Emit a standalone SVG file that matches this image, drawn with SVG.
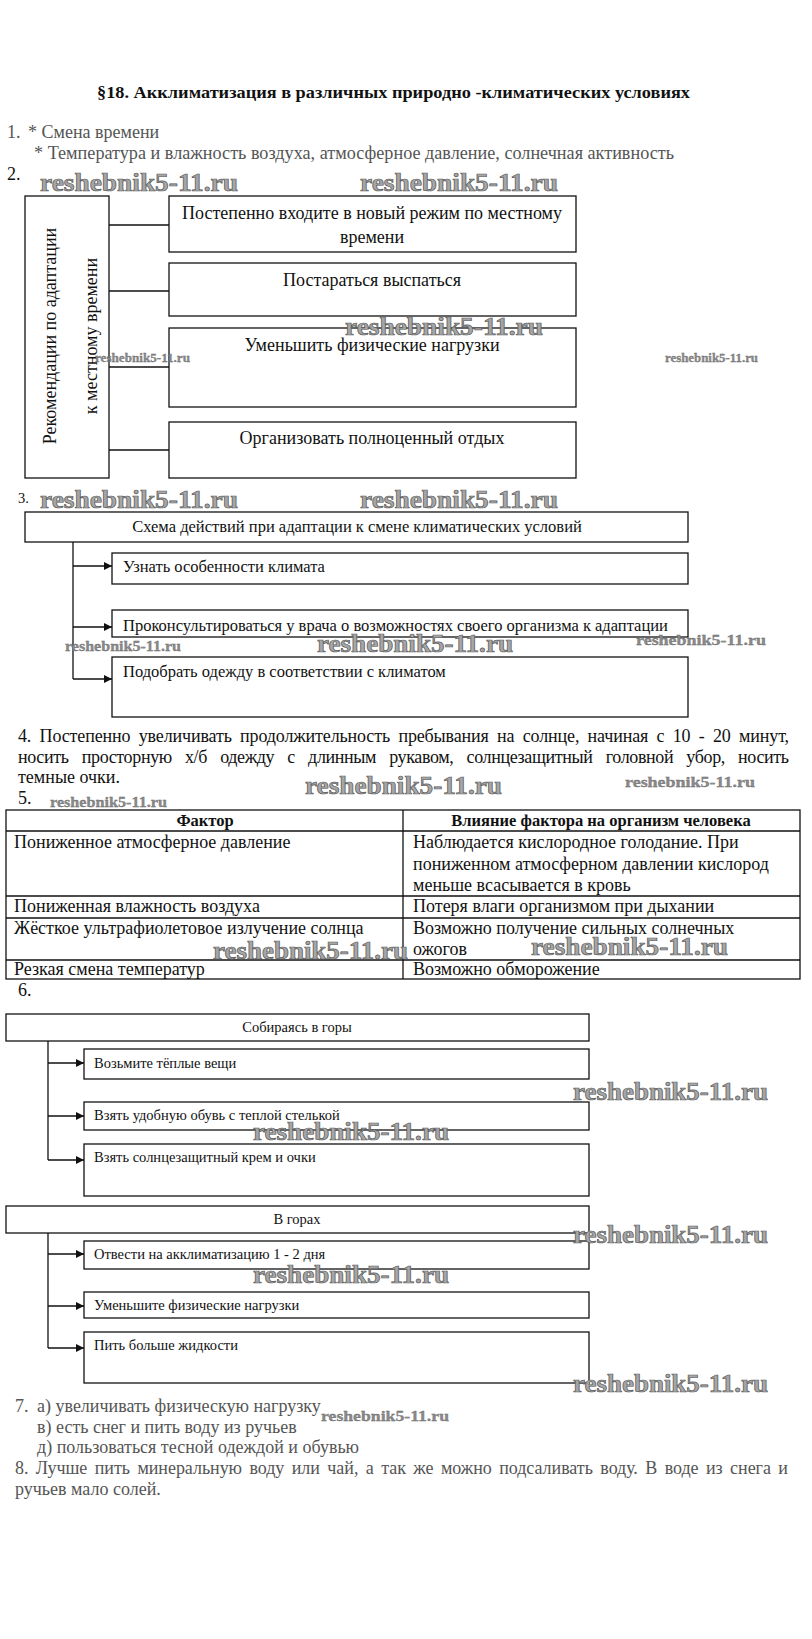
<svg xmlns="http://www.w3.org/2000/svg" width="812" height="1639" viewBox="0 0 812 1639">
<defs>
<style>
text{font-family:"Liberation Serif","Times New Roman",serif;fill:#111}
.t{font-size:18px}
.s{font-size:16.5px}
.x{font-size:14.5px}
.g{fill:#555}
.b{font-weight:bold}
.box{fill:#fff;stroke:#111;stroke-width:1.3}
.ln{stroke:#111;stroke-width:1.3;fill:none}
.wm{font-weight:bold;fill:#a6a6a6;stroke:#5a5a5a;stroke-width:0.7}
.wms{font-weight:bold;fill:#8a8a8a;stroke:#6a6a6a;stroke-width:0.3}
</style>
<marker id="ah" viewBox="0 0 10 10" refX="10" refY="5" markerWidth="8" markerHeight="8" markerUnits="userSpaceOnUse" orient="auto">
<path d="M0,0 L10,5 L0,10 z" fill="#111"/>
</marker>
</defs>
<rect width="812" height="1639" fill="#fff"/>

<text x="97" y="98" class="b" font-size="17" textLength="593" lengthAdjust="spacingAndGlyphs">§18.  Акклиматизация в различных природно -климатических условиях</text>

<g id="sec1">
<text x="7" y="138" class="t g">1.</text>
<text x="28" y="138" class="t g">* Смена времени</text>
<text x="34" y="159" class="t g" textLength="640" lengthAdjust="spacingAndGlyphs">* Температура и влажность воздуха, атмосферное давление, солнечная активность</text>
<text x="7" y="180" class="t">2.</text>
</g>

<g id="connectors">
<line class="ln" x1="109" y1="225" x2="169" y2="225"/>
<line class="ln" x1="109" y1="291" x2="169" y2="291"/>
<line class="ln" x1="109" y1="367" x2="169" y2="367"/>
<line class="ln" x1="109" y1="450" x2="169" y2="450"/>
<line class="ln" x1="73" y1="542" x2="73" y2="679"/>
<line class="ln" x1="73" y1="566" x2="112" y2="566" marker-end="url(#ah)"/>
<line class="ln" x1="73" y1="627" x2="112" y2="627" marker-end="url(#ah)"/>
<line class="ln" x1="73" y1="679" x2="112" y2="679" marker-end="url(#ah)"/>
<line class="ln" x1="48" y1="1041" x2="48" y2="1160"/>
<line class="ln" x1="48" y1="1063" x2="84" y2="1063" marker-end="url(#ah)"/>
<line class="ln" x1="48" y1="1116" x2="84" y2="1116" marker-end="url(#ah)"/>
<line class="ln" x1="48" y1="1160" x2="84" y2="1160" marker-end="url(#ah)"/>
<line class="ln" x1="48" y1="1233" x2="48" y2="1348"/>
<line class="ln" x1="48" y1="1254" x2="84" y2="1254" marker-end="url(#ah)"/>
<line class="ln" x1="48" y1="1306" x2="84" y2="1306" marker-end="url(#ah)"/>
<line class="ln" x1="48" y1="1348" x2="84" y2="1348" marker-end="url(#ah)"/>
</g>

<g id="rec-root">
<rect class="box" x="25" y="196" width="84" height="282"/>
<text transform="translate(56,336) rotate(-90)" text-anchor="middle" font-size="18">Рекомендации по адаптации</text>
<text transform="translate(97,336) rotate(-90)" text-anchor="middle" font-size="18">к местному времени</text>
</g>
<g id="rec1">
<rect class="box" x="169" y="196" width="407" height="56"/>
<text x="372" y="219" text-anchor="middle" font-size="18">Постепенно входите в новый режим по местному</text>
<text x="372" y="243" text-anchor="middle" font-size="18">времени</text>
</g>
<g id="rec2">
<rect class="box" x="169" y="263" width="407" height="53"/>
<text x="372" y="286" text-anchor="middle" font-size="18">Постараться выспаться</text>
</g>
<g id="rec3">
<rect class="box" x="169" y="328" width="407" height="79"/>
<text x="372" y="351" text-anchor="middle" font-size="18">Уменьшить физические нагрузки</text>
</g>
<g id="rec4">
<rect class="box" x="169" y="422" width="407" height="56"/>
<text x="372" y="444" text-anchor="middle" font-size="18">Организовать полноценный отдых</text>
</g>

<text x="18" y="503" class="x">3.</text>
<g id="clim-root">
<rect class="box" x="25" y="512" width="663" height="30"/>
<text x="357" y="532" text-anchor="middle" class="s">Схема действий при адаптации к смене климатических условий</text>
</g>
<g id="clim1">
<rect class="box" x="112" y="553" width="576" height="31"/>
<text x="123" y="572" class="s">Узнать особенности климата</text>
</g>
<g id="clim2">
<rect class="box" x="112" y="610" width="576" height="27"/>
<text x="123" y="631" class="s">Проконсультироваться у врача о возможностях своего организма к адаптации</text>
</g>
<g id="clim3">
<rect class="box" x="112" y="657" width="576" height="60"/>
<text x="123" y="677" class="s">Подобрать одежду в соответствии с климатом</text>
</g>

<g id="sec4">
<text x="18" y="742" class="t" word-spacing="4" textLength="771" lengthAdjust="spacing">4. Постепенно увеличивать продолжительность пребывания на солнце, начиная с 10 - 20 минут,</text>
<text x="18" y="763" class="t" word-spacing="9" textLength="771" lengthAdjust="spacing">носить просторную х/б одежду с длинным рукавом, солнцезащитный головной убор, носить</text>
<text x="18" y="783" class="t">темные очки.</text>
<text x="18" y="804" class="t">5.</text>
</g>

<g id="table">
<rect x="6" y="810" width="794" height="169" fill="none" stroke="#111" stroke-width="1.3"/>
<line class="ln" x1="403" y1="810" x2="403" y2="979"/>
<line class="ln" x1="6" y1="831" x2="800" y2="831"/>
<line class="ln" x1="6" y1="896" x2="800" y2="896"/>
<line class="ln" x1="6" y1="918" x2="800" y2="918"/>
<line class="ln" x1="6" y1="960" x2="800" y2="960"/>
<text x="205" y="826" text-anchor="middle" class="b" font-size="16.5">Фактор</text>
<text x="601" y="826" text-anchor="middle" class="b" font-size="16.5">Влияние фактора на организм человека</text>
<text x="14" y="848" class="t">Пониженное атмосферное давление</text>
<text x="413" y="848" class="t">Наблюдается кислородное голодание. При</text>
<text x="413" y="870" class="t">пониженном атмосферном давлении кислород</text>
<text x="413" y="891" class="t">меньше всасывается в кровь</text>
<text x="14" y="912" class="t">Пониженная влажность воздуха</text>
<text x="413" y="912" class="t">Потеря влаги организмом при дыхании</text>
<text x="14" y="934" class="t">Жёсткое ультрафиолетовое излучение солнца</text>
<text x="413" y="934" class="t">Возможно получение сильных солнечных</text>
<text x="413" y="955" class="t">ожогов</text>
<text x="14" y="975" class="t">Резкая смена температур</text>
<text x="413" y="975" class="t">Возможно обморожение</text>
</g>

<text x="18" y="996" class="t">6.</text>
<g id="mount-root">
<rect class="box" x="6" y="1014" width="583" height="27"/>
<text x="297" y="1032" text-anchor="middle" class="x">Собираясь в горы</text>
</g>
<g id="mount1">
<rect class="box" x="84" y="1049" width="505" height="30"/>
<text x="94" y="1068" class="x">Возьмите тёплые вещи</text>
</g>
<g id="mount2">
<rect class="box" x="84" y="1102" width="505" height="28"/>
<text x="94" y="1120" class="x">Взять удобную обувь с теплой стелькой</text>
</g>
<g id="mount3">
<rect class="box" x="84" y="1144" width="505" height="52"/>
<text x="94" y="1162" class="x">Взять солнцезащитный  крем и очки</text>
</g>

<g id="inmount-root">
<rect class="box" x="6" y="1206" width="583" height="27"/>
<text x="297" y="1224" text-anchor="middle" class="x">В горах</text>
</g>
<g id="inmount1">
<rect class="box" x="84" y="1241" width="505" height="28"/>
<text x="94" y="1259" class="x">Отвести на акклиматизацию 1 - 2 дня</text>
</g>
<g id="inmount2">
<rect class="box" x="84" y="1292" width="505" height="26"/>
<text x="94" y="1310" class="x">Уменьшите физические нагрузки</text>
</g>
<g id="inmount3">
<rect class="box" x="84" y="1332" width="505" height="51"/>
<text x="94" y="1350" class="x">Пить больше жидкости</text>
</g>

<g id="sec7">
<text x="15" y="1412" class="t g">7.</text>
<text x="37" y="1412" class="t g">а) увеличивать физическую нагрузку</text>
<text x="37" y="1433" class="t g">в) есть снег и пить воду из ручьев</text>
<text x="37" y="1453" class="t g">д) пользоваться тесной одеждой и обувью</text>
<text x="15" y="1474" class="t g" word-spacing="3" textLength="773" lengthAdjust="spacing">8. Лучше пить минеральную воду или чай, а так же можно подсаливать воду. В воде из снега и</text>
<text x="15" y="1495" class="t g">ручьев мало солей.</text>
</g>

<g id="watermarks">
<text x="40" y="191" class="wm" font-size="25" textLength="198" lengthAdjust="spacingAndGlyphs">reshebnik5-11.ru</text>
<text x="360" y="191" class="wm" font-size="25" textLength="198" lengthAdjust="spacingAndGlyphs">reshebnik5-11.ru</text>
<text x="345" y="335" class="wm" font-size="25" textLength="198" lengthAdjust="spacingAndGlyphs">reshebnik5-11.ru</text>
<text x="95" y="362" class="wms" font-size="13" textLength="95" lengthAdjust="spacingAndGlyphs">reshebnik5-11.ru</text>
<text x="665" y="362" class="wms" font-size="13" textLength="93" lengthAdjust="spacingAndGlyphs">reshebnik5-11.ru</text>
<text x="40" y="508" class="wm" font-size="25" textLength="198" lengthAdjust="spacingAndGlyphs">reshebnik5-11.ru</text>
<text x="360" y="508" class="wm" font-size="25" textLength="198" lengthAdjust="spacingAndGlyphs">reshebnik5-11.ru</text>
<text x="65" y="651" class="wms" font-size="15" textLength="116" lengthAdjust="spacingAndGlyphs">reshebnik5-11.ru</text>
<text x="317" y="652" class="wm" font-size="25" textLength="196" lengthAdjust="spacingAndGlyphs">reshebnik5-11.ru</text>
<text x="636" y="645" class="wms" font-size="15" textLength="130" lengthAdjust="spacingAndGlyphs">reshebnik5-11.ru</text>
<text x="305" y="794" class="wm" font-size="25" textLength="197" lengthAdjust="spacingAndGlyphs">reshebnik5-11.ru</text>
<text x="625" y="787" class="wms" font-size="15" textLength="130" lengthAdjust="spacingAndGlyphs">reshebnik5-11.ru</text>
<text x="50" y="807" class="wms" font-size="15" textLength="117" lengthAdjust="spacingAndGlyphs">reshebnik5-11.ru</text>
<text x="213" y="959" class="wm" font-size="25" textLength="195" lengthAdjust="spacingAndGlyphs">reshebnik5-11.ru</text>
<text x="531" y="955" class="wm" font-size="25" textLength="197" lengthAdjust="spacingAndGlyphs">reshebnik5-11.ru</text>
<text x="573" y="1100" class="wm" font-size="25" textLength="195" lengthAdjust="spacingAndGlyphs">reshebnik5-11.ru</text>
<text x="253" y="1140" class="wm" font-size="25" textLength="196" lengthAdjust="spacingAndGlyphs">reshebnik5-11.ru</text>
<text x="573" y="1243" class="wm" font-size="25" textLength="195" lengthAdjust="spacingAndGlyphs">reshebnik5-11.ru</text>
<text x="253" y="1283" class="wm" font-size="25" textLength="196" lengthAdjust="spacingAndGlyphs">reshebnik5-11.ru</text>
<text x="573" y="1392" class="wm" font-size="25" textLength="195" lengthAdjust="spacingAndGlyphs">reshebnik5-11.ru</text>
<text x="321" y="1421" class="wms" font-size="15" textLength="128" lengthAdjust="spacingAndGlyphs">reshebnik5-11.ru</text>
</g>
</svg>
